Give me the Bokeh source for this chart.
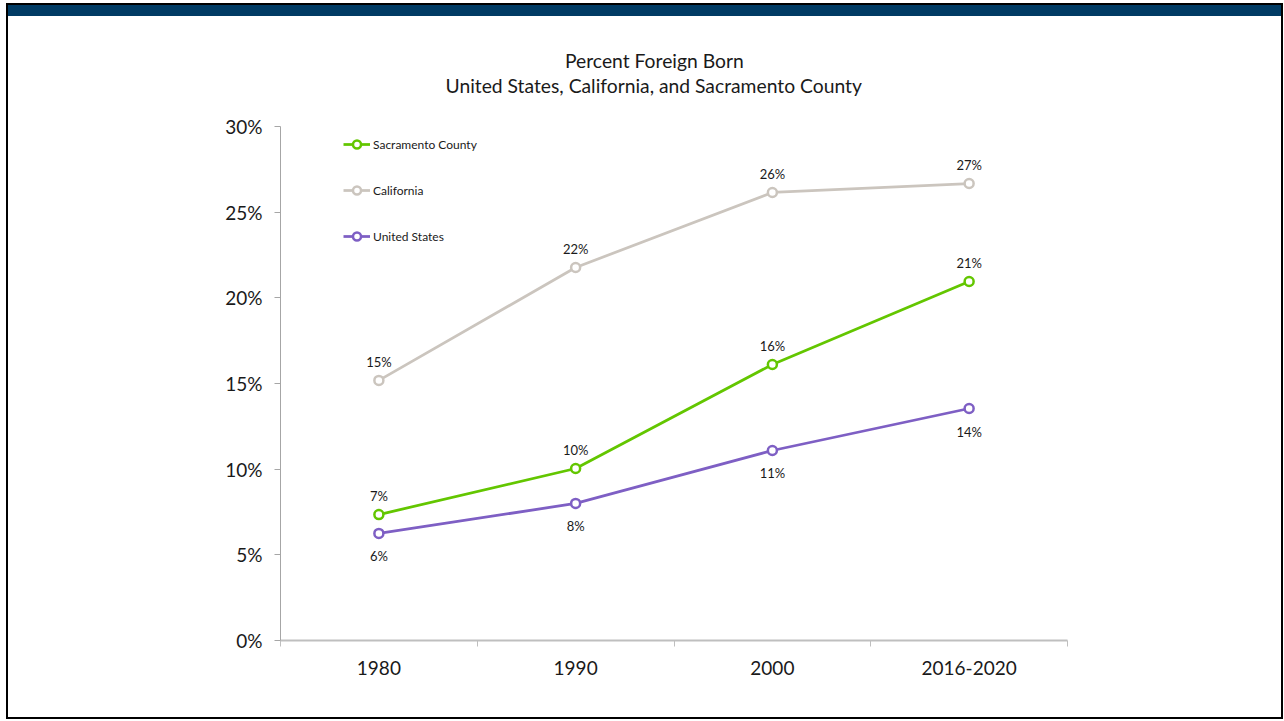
from bokeh.plotting import figure
from bokeh.models import (Range1d, FixedTicker, PrintfTickFormatter, Legend, LegendItem, Title)
from bokeh.core.properties import value
from bokeh.embed import file_html
from bokeh.resources import INLINE

# ---- data ----
categories = ["1980", "1990", "2000", "2016-2020"]
sacramento = [7.35, 10.04, 16.11, 20.95]
california = [15.18, 21.77, 26.15, 26.67]
united_states = [6.25, 8.0, 11.09, 13.54]
y_ticks = [0, 5, 10, 15, 20, 25, 30]
title_lines = ["Percent Foreign Born", "United States, California, and Sacramento County"]

# ---- layout constants ----
W, H = 1273, 701
FL, FR, FT, FB = 272, 1059, 110, 624
FONT = "Lato"
TXT = "#1a1a1a"

p = figure(width=W, height=H, x_range=Range1d(0, 4), y_range=Range1d(0, 30),
           output_backend="svg", toolbar_location=None, tools="",
           min_border_left=FL, min_border_right=W - FR,
           min_border_top=FT, min_border_bottom=H - FB)
p.outline_line_color = None
p.xgrid.visible = False
p.ygrid.visible = False
p.background_fill_color = "white"
p.border_fill_color = "white"
# page frame: navy header bar and thin black border, drawn as shadows (no layout effect)
p.styles = {
    "margin-left": "8px",
    "margin-top": "16px",
    "box-shadow": "0 -11px 0 0 #003b64, 0 -11px 0 2px #000000, 0 0 0 2px #000000",
}

xs = [i + 0.5 for i in range(len(categories))]

# x axis
xa = p.xaxis[0]
xa.ticker = FixedTicker(ticks=xs, minor_ticks=list(range(len(categories) + 1)))
xa.major_label_overrides = {x: c for x, c in zip(xs, categories)}
xa.major_tick_line_color = None
xa.major_tick_out = 0
xa.major_tick_in = 0
xa.minor_tick_out = 6
xa.minor_tick_in = 0
xa.minor_tick_line_color = "#BFBFBF"
xa.axis_line_color = "#BFBFBF"
xa.axis_line_width = 2
xa.major_label_text_font = FONT
xa.major_label_text_font_size = "19px"
xa.major_label_text_color = TXT
xa.major_label_standoff = 14

# y axis
ya = p.yaxis[0]
ya.ticker = FixedTicker(ticks=y_ticks, minor_ticks=[])
ya.formatter = PrintfTickFormatter(format="%d%%")
ya.major_tick_out = 6
ya.major_tick_in = 0
ya.major_tick_line_color = "#A6A6A6"
ya.minor_tick_line_color = None
ya.axis_line_color = "#A6A6A6"
ya.major_label_text_font = FONT
ya.major_label_text_font_size = "19px"
ya.major_label_text_color = TXT
ya.major_label_standoff = 12

series = [
    ("Sacramento County", sacramento, "#63c600", -18.5),
    ("California", california, "#cbc5be", -18.5),
    ("United States", united_states, "#7e5fc4", 23),
]

items = []
for name, vals, color, off in series:
    lr = p.line(xs, vals, line_color=color, line_width=2.75)
    sr = p.scatter(xs, vals, size=9, marker="circle", fill_color="white",
                   line_color=color, line_width=2.5)
    labels = [f"{round(v)}%" for v in vals]
    p.text(xs, vals, text=labels, y_offset=off, text_align="center",
           text_baseline="middle", text_font=value(FONT), text_font_size="13px",
           text_color=TXT)
    items.append(LegendItem(label=name, renderers=[lr, sr]))

legend = Legend(items=items, location=(63, 394), padding=0, margin=0,
                spacing=26, glyph_width=27, glyph_height=20, label_height=20,
                label_standoff=3, label_text_font=FONT, label_text_font_size="12px",
                label_text_color=TXT, border_line_color=None,
                background_fill_alpha=0)
p.add_layout(legend)

# title: spacer next to the plot, then second line, then first line
p.add_layout(Title(text=" ", text_font_size="10px", standoff=16.5,
                   text_color="white"), "above")
p.add_layout(Title(text=title_lines[1], align="left", offset=165, standoff=0,
                   text_font=FONT, text_font_size="19.3px", text_font_style="normal",
                   text_color=TXT), "above")
p.add_layout(Title(text=title_lines[0], align="left", offset=284.5, standoff=0,
                   text_font=FONT, text_font_size="19.3px", text_font_style="normal",
                   text_color=TXT), "above")

open("out.html", "w").write(file_html(p, INLINE))
